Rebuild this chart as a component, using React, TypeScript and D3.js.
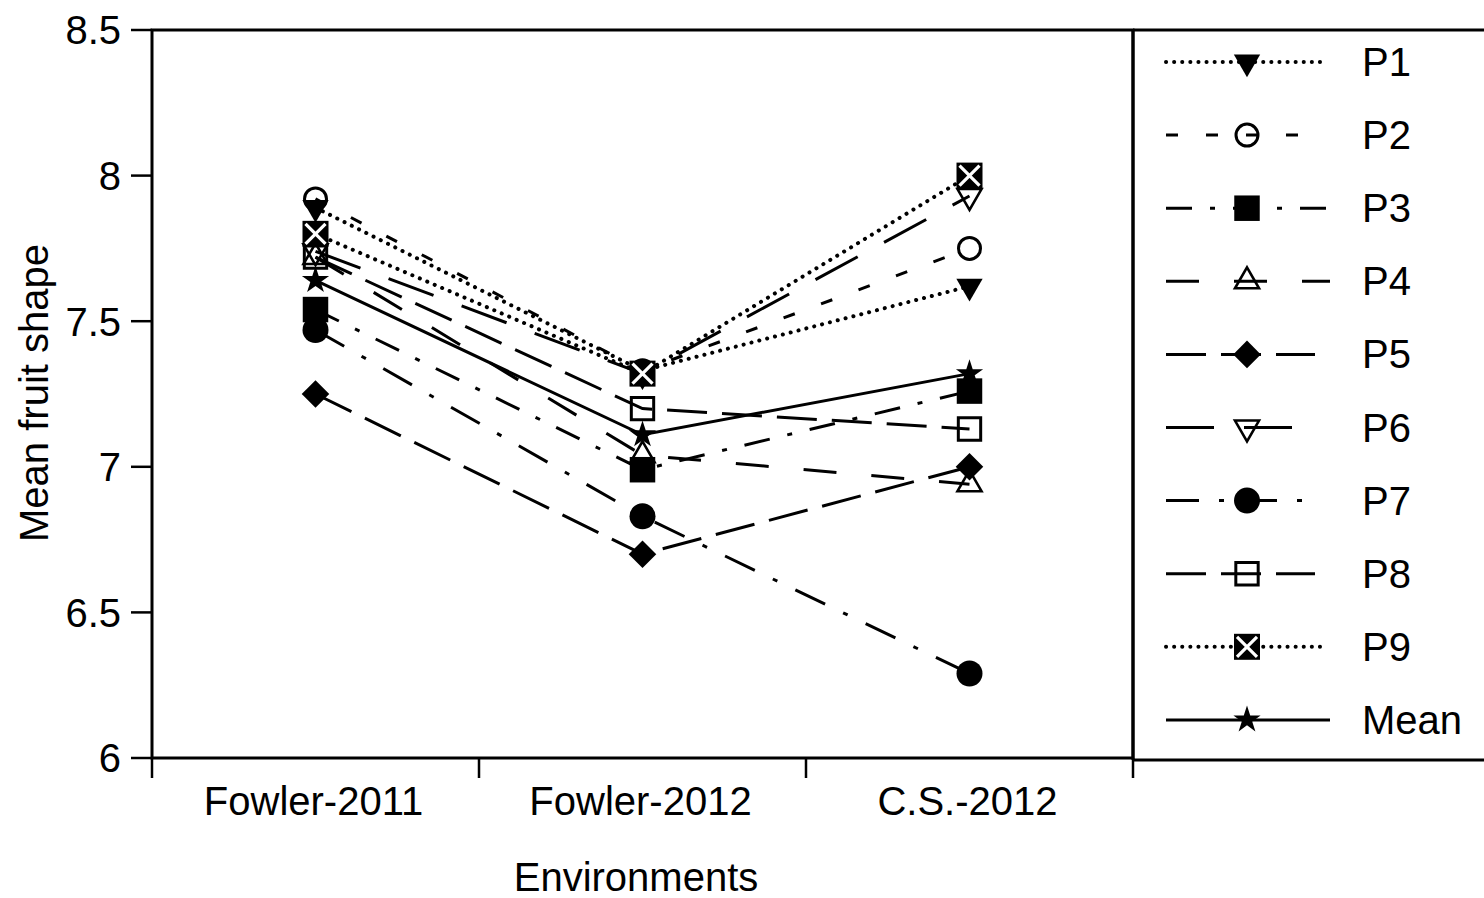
import React from "react";
import * as d3 from "d3";

// Environments on the x axis
const environments = ["Fowler-2011", "Fowler-2012", "C.S.-2012"];

// Mean fruit shape per parent line, one value per environment
const P1 = [7.89, 7.33, 7.62];
const P2 = [7.92, 7.33, 7.75];
const P3 = [7.54, 6.99, 7.26];
const P4 = [7.72, 7.04, 6.94];
const P5 = [7.25, 6.7, 7.0];
const P6 = [7.74, 7.32, 7.93];
const P7 = [7.47, 6.83, 6.29];
const P8 = [7.72, 7.2, 7.13];
const P9 = [7.8, 7.32, 8.0];
const MEAN = [7.64, 7.11, 7.32];

const yTicks = [6, 6.5, 7, 7.5, 8, 8.5];

type Marker =
  | "triDownFilled"
  | "circleOpen"
  | "squareFilled"
  | "triUpOpen"
  | "diamondFilled"
  | "triDownOpen"
  | "circleFilled"
  | "squareOpen"
  | "squareX"
  | "star";

interface Series {
  name: string;
  values: number[];
  dash: string;
  cap: "butt" | "round";
  marker: Marker;
  legendEnd: number;
}

const series: Series[] = [
  { name: "P1", values: P1, dash: "0.1 8", cap: "round", marker: "triDownFilled", legendEnd: 1322 },
  { name: "P2", values: P2, dash: "12 28", cap: "butt", marker: "circleOpen", legendEnd: 1304 },
  { name: "P3", values: P3, dash: "26 18 5 18", cap: "butt", marker: "squareFilled", legendEnd: 1330 },
  { name: "P4", values: P4, dash: "33 35", cap: "butt", marker: "triUpOpen", legendEnd: 1330 },
  { name: "P5", values: P5, dash: "40 15", cap: "butt", marker: "diamondFilled", legendEnd: 1315 },
  { name: "P6", values: P6, dash: "48 30", cap: "butt", marker: "triDownOpen", legendEnd: 1304 },
  { name: "P7", values: P7, dash: "33 20 5 20", cap: "butt", marker: "circleFilled", legendEnd: 1310 },
  { name: "P8", values: P8, dash: "40 15", cap: "butt", marker: "squareOpen", legendEnd: 1315 },
  { name: "P9", values: P9, dash: "0.1 8", cap: "round", marker: "squareX", legendEnd: 1322 },
  { name: "Mean", values: MEAN, dash: "", cap: "butt", marker: "star", legendEnd: 1330 },
];

const W = 1484;
const H = 898;
const left = 152;
const right = 1133;
const top = 30;
const bottom = 758;
const FONT = "'Liberation Sans', Arial, Helvetica, sans-serif";
const FS = 40;

const x = d3.scaleBand<string>().domain(environments).range([left, right]).padding(0);
const y = d3.scaleLinear().domain([6, 8.5]).range([bottom, top]);
const cx = (e: string) => (x(e) as number) + x.bandwidth() / 2;

const sym = (type: d3.SymbolType, size: number) => d3.symbol().type(type).size(size)() as string;

function MarkerShape({ kind, px, py }: { kind: Marker; px: number; py: number }) {
  const t = `translate(${px},${py})`;
  switch (kind) {
    case "triDownFilled":
      return <path d={sym(d3.symbolTriangle, 300)} transform={`${t} rotate(180)`} fill="#000" />;
    case "triDownOpen":
      return (
        <path d={sym(d3.symbolTriangle, 250)} transform={`${t} rotate(180)`} fill="none" stroke="#000" strokeWidth={2.6} />
      );
    case "triUpOpen":
      return <path d={sym(d3.symbolTriangle, 250)} transform={t} fill="none" stroke="#000" strokeWidth={2.6} />;
    case "circleOpen":
      return <circle cx={px} cy={py} r={11} fill="none" stroke="#000" strokeWidth={3} />;
    case "circleFilled":
      return <circle cx={px} cy={py} r={13} fill="#000" />;
    case "squareFilled":
      return <path d={sym(d3.symbolSquare, 650)} transform={t} fill="#000" />;
    case "squareOpen":
      return <path d={sym(d3.symbolSquare, 500)} transform={t} fill="none" stroke="#000" strokeWidth={3} />;
    case "diamondFilled":
      return <path d={sym(d3.symbolSquare, 380)} transform={`${t} rotate(45)`} fill="#000" />;
    case "squareX":
      return (
        <g transform={t}>
          <rect x={-13} y={-13} width={26} height={26} fill="#000" />
          <path d="M-10,-10L10,10M10,-10L-10,10" stroke="#fff" strokeWidth={3.2} />
        </g>
      );
    case "star":
      return <path d={sym(d3.symbolStar, 230)} transform={t} fill="#000" />;
  }
}

const line = d3
  .line<number>()
  .x((_, i) => cx(environments[i]))
  .y((v) => y(v));

export default function App() {
  const legendX0 = 1166;
  const legendMark = 1247;
  const legendText = 1362;
  const legendY0 = 62;
  const legendStep = 73.1;
  const bandEdges = [...environments.map((e) => x(e) as number), right];

  return (
    <svg
      width={W}
      height={H}
      viewBox={`0 0 ${W} ${H}`}
      style={{ position: "absolute", left: 0, top: 0, background: "#fff" }}
      fontFamily={FONT}
    >
      <rect x={0} y={0} width={W} height={H} fill="#fff" />

      {/* plot frame */}
      <rect x={left} y={top} width={right - left} height={bottom - top} fill="none" stroke="#000" strokeWidth={3} />

      {/* y axis */}
      {yTicks.map((t) => (
        <g key={t}>
          <line x1={131} x2={left} y1={y(t)} y2={y(t)} stroke="#000" strokeWidth={2.5} />
          <text x={121} y={y(t)} dy="0.36em" textAnchor="end" fontSize={FS}>
            {d3.format("")(t)}
          </text>
        </g>
      ))}
      <text transform={`translate(48,${(top + bottom) / 2 - 1}) rotate(-90)`} textAnchor="middle" fontSize={FS}>
        Mean fruit shape
      </text>

      {/* x axis */}
      {bandEdges.map((e, i) => (
        <line key={i} x1={e} x2={e} y1={bottom} y2={778} stroke="#000" strokeWidth={2.5} />
      ))}
      {environments.map((e) => (
        <text key={e} x={cx(e) - 2} y={815} textAnchor="middle" fontSize={FS}>
          {e}
        </text>
      ))}
      <text x={636} y={891} textAnchor="middle" fontSize={FS}>
        Environments
      </text>

      {/* series */}
      {series.map((s) => (
        <g key={s.name}>
          <path
            d={line(s.values) as string}
            fill="none"
            stroke="#000"
            strokeWidth={s.cap === "round" ? 4 : 3}
            strokeDasharray={s.dash || undefined}
            strokeLinecap={s.cap}
          />
          {s.values.map((v, i) => (
            <MarkerShape key={i} kind={s.marker} px={cx(environments[i])} py={y(v)} />
          ))}
        </g>
      ))}

      {/* legend */}
      <path d={`M${right},${top}H${W + 5}M${right},${bottom + 2}H${W + 5}`} stroke="#000" strokeWidth={3} />
      <line x1={right} x2={right} y1={top} y2={bottom + 2} stroke="#000" strokeWidth={3} />
      {series.map((s, i) => {
        const ly = legendY0 + i * legendStep;
        return (
          <g key={s.name}>
            <line
              x1={legendX0}
              x2={s.legendEnd}
              y1={ly}
              y2={ly}
              stroke="#000"
              strokeWidth={s.cap === "round" ? 4 : 3}
              strokeDasharray={s.dash || undefined}
              strokeLinecap={s.cap}
            />
            <MarkerShape kind={s.marker} px={legendMark} py={ly} />
            <text x={legendText} y={ly + 14} fontSize={FS}>
              {s.name}
            </text>
          </g>
        );
      })}
    </svg>
  );
}
